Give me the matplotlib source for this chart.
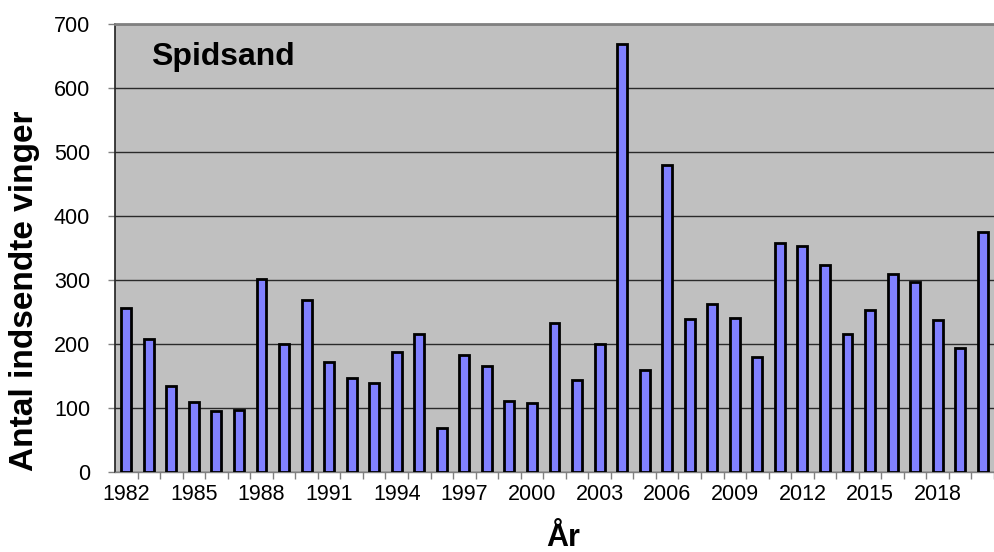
"""Spidsand - antal indsendte vinger pr. år"""

import numpy as np
import matplotlib.pyplot as plt

plt.rcParams['font.family'] = ['Liberation Sans', 'DejaVu Sans']

# data
years = list(range(1982, 2021))
wings = [256, 207, 135, 109, 95, 97, 302, 200, 268, 172,
         147, 139, 187, 215, 68, 182, 165, 111, 108, 232,
         144, 200, 668, 159, 479, 239, 262, 240, 180, 358,
         352, 323, 215, 253, 309, 296, 237, 194, 374]
y_ticks = [0, 100, 200, 300, 400, 500, 600, 700]
species = 'Spidsand'

W, H = 994, 552
fig = plt.figure(figsize=(W / 100, H / 100), dpi=100)
ax = fig.add_axes([115 / W, 1 - 472 / H, 1 - 115 / W, (472 - 23.5) / H])
ax.set_facecolor('#c0c0c0')

x = np.arange(len(years))
ax.bar(x, wings, width=0.44, color='#8080ff', edgecolor='black',
       linewidth=2.0, zorder=3)

ax.set_xlim(-0.5, len(years) - 0.5 - 6.3 / 22.7)
ax.set_ylim(0, 700)
ax.set_yticks(y_ticks)
ax.yaxis.grid(True, color='#2a2a2a', linewidth=1.0, zorder=1)

# labels every third year, ticks between categories
ax.set_xticks(x[::3])
ax.set_xticklabels([str(y) for y in years[::3]])
ax.set_xticks(np.arange(len(years)) + 0.5, minor=True)
ax.tick_params(axis='x', which='major', length=0, pad=8.5, labelsize=15.5)
ax.tick_params(axis='x', which='minor', length=5, width=1, color='#808080',
               direction='out')
ax.tick_params(axis='y', length=5, width=1, color='#808080', pad=13,
               labelsize=15.5, direction='out')

ax.spines['right'].set_visible(False)
ax.spines['top'].set_color('#808080')
ax.spines['top'].set_linewidth(2)
ax.spines['bottom'].set_color('#808080')
ax.spines['bottom'].set_linewidth(1)
ax.spines['left'].set_color('#202020')
ax.spines['left'].set_linewidth(1.2)

fig.text(151 / W, 1 - 65 / H, species, fontsize=23, fontweight='bold',
         ha='left', va='baseline')
fig.text(25 / W, 1 - 291 / H, 'Antal indsendte vinger', fontsize=24,
         fontweight='bold', rotation=90, ha='center', va='center')
fig.text(563 / W, 1 - 546 / H, 'År', fontsize=22, fontweight='bold',
         ha='center', va='baseline')

plt.savefig('out.png', dpi=100, facecolor='white')
